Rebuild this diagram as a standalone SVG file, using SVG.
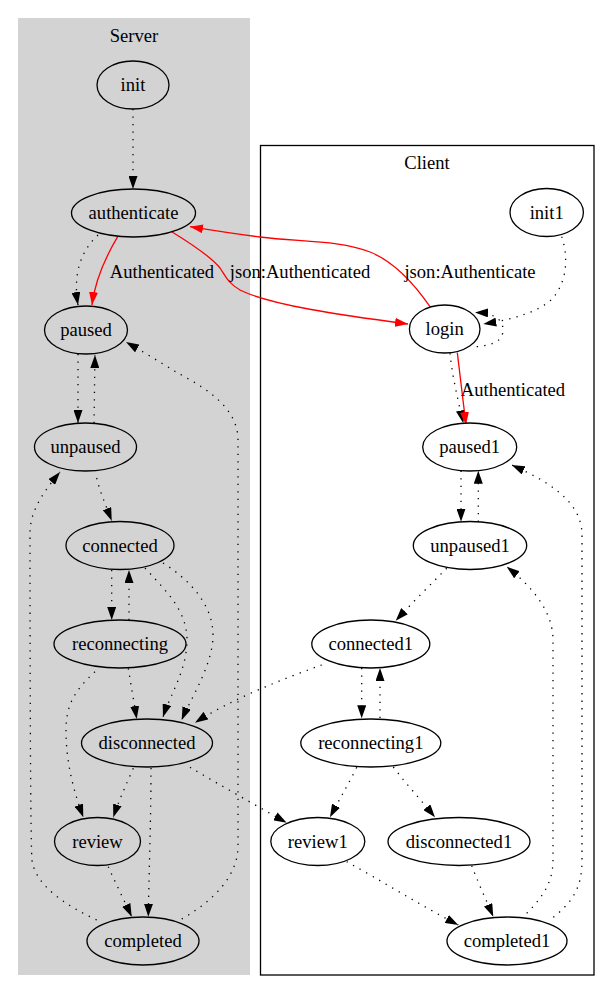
<svg xmlns="http://www.w3.org/2000/svg" width="612" height="1004" viewBox="0 0 612 1004">
<style>
text{font-family:"Liberation Serif","Times New Roman",serif;font-size:18.6px;text-anchor:middle;fill:#000}
.s ellipse{fill:#d3d3d3;stroke:#000;stroke-width:1.3}
.c ellipse{fill:#fff;stroke:#000;stroke-width:1.3}
.e path{fill:none;stroke:#000;stroke-width:1.3;stroke-dasharray:1.3,6.2}
.e path.r{stroke:#f00;stroke-dasharray:none}
</style>
<defs>
<marker id="a" markerUnits="userSpaceOnUse" markerWidth="13" markerHeight="9" refX="13" refY="4.5" orient="auto"><path d="M0,0 L13,4.5 L0,9 z" fill="#000"/></marker>
<marker id="ar" markerUnits="userSpaceOnUse" markerWidth="13" markerHeight="9" refX="13" refY="4.5" orient="auto"><path d="M0,0 L13,4.5 L0,9 z" fill="#f00"/></marker>
</defs>
<rect width="612" height="1004" fill="#fff"/>
<g id="cluster_server"><rect x="18" y="18" width="232" height="957" fill="#d3d3d3"/><text x="134" y="42">Server</text></g>
<g id="cluster_client"><rect x="260.5" y="145.5" width="333.5" height="829.5" fill="#fff" stroke="#000" stroke-width="1.3"/><text x="427" y="169">Client</text></g>

<g id="edges" class="e">
<path d="M133,109 L133,189" marker-end="url(#a)"/>
<path d="M98,235 C80,252 73,275 78,305" marker-end="url(#a)"/>
<path class="r" d="M117.7,236.7 C105,258 95,280 92,305" marker-end="url(#ar)"/>
<path class="r" d="M171.7,231.7 C195,246 212,258 220,268 C226,277 228,283 240,290 C270,305 340,315 408,324" marker-end="url(#ar)"/>
<path class="r" d="M430,306.7 C415,285 395,262 370,252 C340,240 300,242 260,237 C235,234 210,230 190,226.7" marker-end="url(#ar)"/>
<path d="M561.7,236.7 C568,255 568,280 553,298 C540,312 510,320 483.3,324" marker-end="url(#a)"/>
<path d="M476.7,346.7 C495,345 503,340 503,330 C503,318 492,313 475,312.5" marker-end="url(#a)"/>
<path d="M450,353.3 C452,375 458,400 463.3,423.3" marker-end="url(#a)"/>
<path class="r" d="M457.3,352.7 C460,375 463,400 466,425" marker-end="url(#ar)"/>
<path d="M78,354 L78,423" marker-end="url(#a)"/>
<path d="M94,423 L95,355" marker-end="url(#a)"/>
<path d="M96.7,478 C100,492 106,506 111.7,520.7" marker-end="url(#a)"/>
<path d="M96.7,920 C65,905 35,885 32,860 C30,840 30,560 30,533 C30,510 45,490 60,472" marker-end="url(#a)"/>
<path d="M181.7,919 C215,900 238,875 238,846 L238,440 C238,405 200,385 176,372 C160,362 140,350 126,342" marker-end="url(#a)"/>
<path d="M111.7,570 L111.7,620" marker-end="url(#a)"/>
<path d="M129,620 L129,570" marker-end="url(#a)"/>
<path d="M145,568 C165,590 187,610 187,640 C187,670 170,695 163,717" marker-end="url(#a)"/>
<path d="M163,563 C190,580 213,605 213,635 C213,665 190,700 181.7,720" marker-end="url(#a)"/>
<path d="M321.7,665 C280,680 230,700 195,722.7" marker-end="url(#a)"/>
<path d="M128.3,668.3 C131,685 134,702 136.7,719" marker-end="url(#a)"/>
<path d="M95,671.7 C75,690 66,705 66,730 C66,765 75,795 83.3,817.3" marker-end="url(#a)"/>
<path d="M133.3,768.3 C126,785 119,800 113.3,817.3" marker-end="url(#a)"/>
<path d="M151,768 C151,820 149,870 148.3,916.7" marker-end="url(#a)"/>
<path d="M108.3,866.7 C115,882 124,900 131.7,916.7" marker-end="url(#a)"/>
<path d="M190,767.3 C220,785 255,805 286.7,822.7" marker-end="url(#a)"/>
<path d="M461,470.7 L461,521.7" marker-end="url(#a)"/>
<path d="M478.3,521.7 L478.3,470.7" marker-end="url(#a)"/>
<path d="M446.7,568.3 C430,585 412,603 395.7,620.7" marker-end="url(#a)"/>
<path d="M526.7,913.3 C545,895 553,880 553,860 L553,640 C553,610 530,585 506.7,566.7" marker-end="url(#a)"/>
<path d="M553.3,917.3 C575,900 582,885 582,860 L582,535 C582,500 545,480 511.7,465" marker-end="url(#a)"/>
<path d="M361.7,668 L361.7,718.3" marker-end="url(#a)"/>
<path d="M380,718 L380,668" marker-end="url(#a)"/>
<path d="M356.7,767.3 C348,785 339,800 330,817.3" marker-end="url(#a)"/>
<path d="M393.3,767 C407,785 421,800 435,817.3" marker-end="url(#a)"/>
<path d="M346.7,861.7 C380,880 420,905 458.3,925" marker-end="url(#a)"/>
<path d="M471.7,865.7 C478,882 486,900 493.3,916.7" marker-end="url(#a)"/>
<text x="162" y="278">Authenticated</text>
<text x="300" y="278">json:Authenticated</text>
<text x="470" y="278">json:Authenticate</text>
<text x="513" y="396">Authenticated</text>
</g>

<g id="init" class="s"><ellipse cx="133" cy="85" rx="36" ry="24"/><text x="133" y="91">init</text></g>
<g id="authenticate" class="s"><ellipse cx="133.5" cy="213" rx="62" ry="24"/><text x="133.5" y="219">authenticate</text></g>
<g id="paused" class="s"><ellipse cx="86" cy="330" rx="41.5" ry="24"/><text x="86" y="336">paused</text></g>
<g id="unpaused" class="s"><ellipse cx="85.5" cy="447" rx="51" ry="24"/><text x="85.5" y="453">unpaused</text></g>
<g id="connected" class="s"><ellipse cx="120" cy="545.5" rx="54" ry="24"/><text x="120" y="551.5">connected</text></g>
<g id="reconnecting" class="s"><ellipse cx="120" cy="644" rx="66" ry="24"/><text x="120" y="650">reconnecting</text></g>
<g id="disconnected" class="s"><ellipse cx="147" cy="743" rx="65.5" ry="24"/><text x="147" y="749">disconnected</text></g>
<g id="review" class="s"><ellipse cx="97.5" cy="841.5" rx="43" ry="24"/><text x="97.5" y="847.5">review</text></g>
<g id="completed" class="s"><ellipse cx="143" cy="941" rx="56" ry="24"/><text x="143" y="947">completed</text></g>

<g id="init1" class="c"><ellipse cx="546.7" cy="212.5" rx="36.7" ry="24"/><text x="546.7" y="218.5">init1</text></g>
<g id="login" class="c"><ellipse cx="444.7" cy="329" rx="35.3" ry="24"/><text x="444.7" y="335">login</text></g>
<g id="paused1" class="c"><ellipse cx="469.7" cy="447" rx="47" ry="24"/><text x="469.7" y="453">paused1</text></g>
<g id="unpaused1" class="c"><ellipse cx="470" cy="545.5" rx="56.7" ry="24"/><text x="470" y="551.5">unpaused1</text></g>
<g id="connected1" class="c"><ellipse cx="370.8" cy="644" rx="59" ry="24"/><text x="370.8" y="650">connected1</text></g>
<g id="reconnecting1" class="c"><ellipse cx="370.8" cy="743" rx="70" ry="24"/><text x="370.8" y="749">reconnecting1</text></g>
<g id="review1" class="c"><ellipse cx="317.8" cy="841.5" rx="47" ry="24"/><text x="317.8" y="847.5">review1</text></g>
<g id="disconnected1" class="c"><ellipse cx="459" cy="841.5" rx="71" ry="24"/><text x="459" y="847.5">disconnected1</text></g>
<g id="completed1" class="c"><ellipse cx="507" cy="941" rx="60" ry="24"/><text x="507" y="947">completed1</text></g>
</svg>
